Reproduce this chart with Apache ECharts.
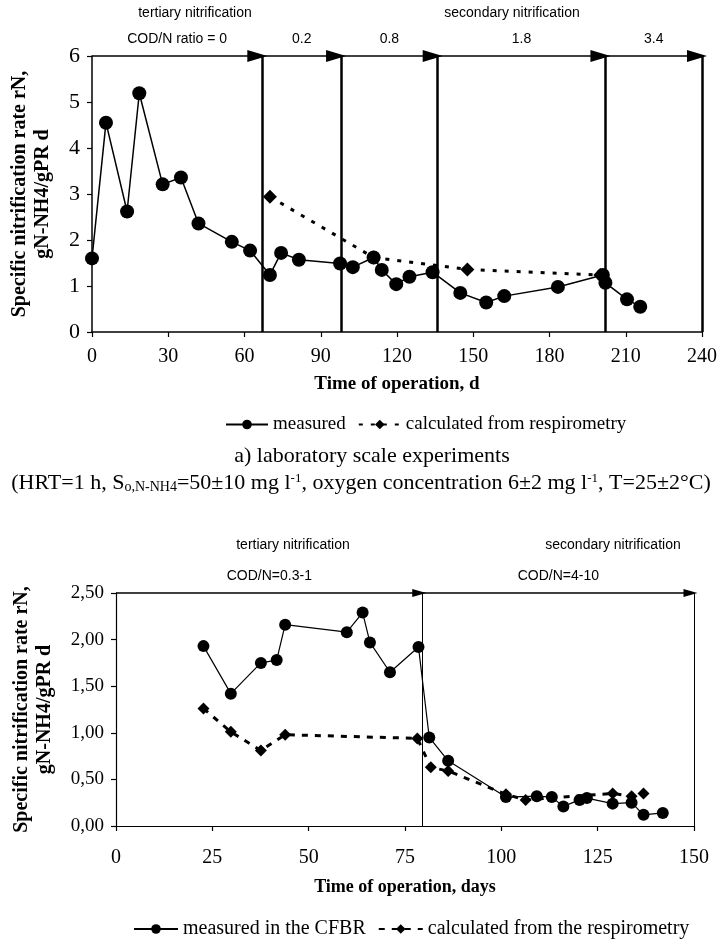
<!DOCTYPE html>
<html>
<head>
<meta charset="utf-8">
<script src="https://cdn.jsdelivr.net/npm/echarts@6.0.0/dist/echarts.min.js"></script>
<style>
  html, body { margin: 0; padding: 0; background: #fff; }
  #chart { width: 722px; height: 949px; }
</style>
</head>
<body>
<div id="chart"></div>
<script>
// a) laboratory scale
const labDays = [0, 5.5, 13.8, 18.6, 27.8, 35, 41.9, 55, 62.2, 70, 74.4, 81.4, 97.6, 102.6, 110.8, 114, 119.7, 124.9, 134, 144.9, 155.1, 162.2, 183.3, 201, 202, 210.5, 215.7]
const labMeasured = [1.60, 4.55, 2.62, 5.19, 3.21, 3.36, 2.36, 1.96, 1.77, 1.24, 1.72, 1.57, 1.49, 1.41, 1.62, 1.35, 1.04, 1.20, 1.30, 0.85, 0.64, 0.78, 0.98, 1.24, 1.07, 0.71, 0.55]
const labCalcDays = [70, 110.8, 147.7, 200]
const labCalc = [2.94, 1.62, 1.36, 1.24]
const labPhaseBounds = [0, 67, 98, 136, 202, 240]
const labPhaseLabels = ['COD/N ratio = 0', '0.2', '0.8', '1.8', '3.4']

// b) CFBR
const cfbrDays = [22.7, 29.8, 37.6, 41.7, 43.9, 59.9, 64, 65.9, 71.1, 78.5, 81.3, 86.2, 101.2, 109.2, 113.1, 116.1, 120.3, 122.2, 128.9, 133.8, 136.9, 141.9]
const cfbrMeasured = [1.93, 1.42, 1.75, 1.78, 2.16, 2.08, 2.29, 1.97, 1.65, 1.92, 0.95, 0.70, 0.31, 0.32, 0.31, 0.21, 0.28, 0.30, 0.24, 0.25, 0.12, 0.14]
const cfbrCalcDays = [22.7, 29.8, 37.6, 43.9, 78.2, 81.7, 86.2, 101.2, 106.3, 128.9, 133.8, 136.9]
const cfbrCalc = [1.26, 1.01, 0.81, 0.98, 0.94, 0.63, 0.59, 0.34, 0.28, 0.35, 0.32, 0.35]
const cfbrPhaseBounds = [0, 79.6, 150]
const cfbrPhaseLabels = ['COD/N=0.3-1', 'COD/N=4-10']

const SERIF = '"Liberation Serif", "DejaVu Serif", serif'
const SANS = '"Liberation Sans", Arial, sans-serif'

const zip = (xs, ys) => xs.map((x, i) => [x, ys[i]])

function phaseMarks (bounds, labels, yTop, lineWidth, arrowSize) {
  const data = []
  for (let i = 0; i < labels.length; i++) {
    data.push([
      {coord: [bounds[i], yTop], symbol: 'none'},
      {
        coord: [bounds[i + 1], yTop],
        symbol: 'triangle',
        symbolSize: arrowSize,
        symbolOffset: [0, arrowSize[1] / 4],
        label: {
          show: true,
          formatter: labels[i],
          position: 'insideMiddleTop',
          distance: 10,
          color: '#000',
          fontFamily: SANS,
          fontSize: 14,
        },
      },
    ])
  }
  for (let i = 1; i < bounds.length; i++) {
    data.push({xAxis: bounds[i], label: {show: false},
      lineStyle: {width: lineWidth, type: 'solid', color: '#000'}})
  }
  return {
    silent: true,
    animation: false,
    symbol: ['none', 'none'],
    lineStyle: {color: '#000', width: 1.5, type: 'solid'},
    label: {show: false},
    data: data,
  }
}

const axisCommon = {
  axisLine: {show: true, lineStyle: {color: '#000', width: 1.5}},
  axisTick: {show: true, inside: false, length: 5, lineStyle: {color: '#000', width: 1.2}},
  splitLine: {show: false},
}

const chart = echarts.init(document.getElementById('chart'), null, {renderer: 'canvas'})

chart.setOption({
  animation: false,
  backgroundColor: '#fff',
  grid: [
    {left: 92, top: 56, width: 610, height: 276, outerBoundsMode: 'none', containLabel: false},
    {left: 116, top: 593, width: 578, height: 233, outerBoundsMode: 'none', containLabel: false},
  ],
  xAxis: [
    Object.assign({}, axisCommon, {
      type: 'value', gridIndex: 0, min: 0, max: 240, interval: 30,
      axisLabel: {color: '#000', fontFamily: SERIF, fontSize: 20, margin: 15},
      name: 'Time of operation, d', nameLocation: 'middle', nameGap: 43,
      nameTextStyle: {color: '#000', fontFamily: SERIF, fontSize: 19, fontWeight: 'bold'},
    }),
    Object.assign({}, axisCommon, {
      type: 'value', gridIndex: 1, min: 0, max: 150, interval: 25,
      axisLine: {show: true, lineStyle: {color: '#000', width: 1.2}},
      axisLabel: {color: '#000', fontFamily: SERIF, fontSize: 20, margin: 22},
      name: 'Time of operation, days', nameLocation: 'middle', nameGap: 52,
      nameTextStyle: {color: '#000', fontFamily: SERIF, fontSize: 18, fontWeight: 'bold'},
    }),
  ],
  yAxis: [
    Object.assign({}, axisCommon, {
      type: 'value', gridIndex: 0, min: 0, max: 6, interval: 1,
      axisLabel: {color: '#000', fontFamily: SERIF, fontSize: 22, margin: 12},
      name: 'Specific nitrification rate rN,\ngN-NH4/gPR d', nameLocation: 'middle', nameRotate: 90, nameGap: 38,
      nameTextStyle: {color: '#000', fontFamily: SERIF, fontSize: 20, fontWeight: 'bold', lineHeight: 23},
    }),
    Object.assign({}, axisCommon, {
      type: 'value', gridIndex: 1, min: 0, max: 2.5, interval: 0.5,
      axisLine: {show: true, lineStyle: {color: '#000', width: 1.2}},
      axisLabel: {color: '#000', fontFamily: SERIF, fontSize: 19, margin: 12,
        formatter: v => v.toFixed(2).replace('.', ',')},
      name: 'Specific nitrification rate rN,\ngN-NH4/gPR d', nameLocation: 'middle', nameRotate: 90, nameGap: 60,
      nameTextStyle: {color: '#000', fontFamily: SERIF, fontSize: 20, fontWeight: 'bold', lineHeight: 23},
    }),
  ],
  legend: [
    {
      left: 220, top: 410, itemWidth: 42, itemHeight: 12, itemGap: 12,
      data: ['measured', 'calculated from respirometry'],
      textStyle: {color: '#000', fontFamily: SERIF, fontSize: 19},
    },
    {
      left: 128, top: 914, itemWidth: 44, itemHeight: 12, itemGap: 12,
      data: ['measured in the CFBR', 'calculated from the respirometry'],
      textStyle: {color: '#000', fontFamily: SERIF, fontSize: 20},
    },
  ],
  graphic: [
    {type: 'text', x: 372, y: 445,
      style: {text: 'a) laboratory scale experiments', fill: '#000', font: '22px ' + SERIF, textAlign: 'center'}},
    {type: 'text', left: 'center', top: 472,
      style: {
        text: '(HRT=1 h, S{sub|o,N-NH4}=50±10 mg l{sup|-1}, oxygen concentration 6±2 mg l{sup|-1}, T=25±2°C)',
        fill: '#000', font: '22px ' + SERIF,
        rich: {
          sub: {fontSize: 14, fontFamily: SERIF, verticalAlign: 'bottom', padding: [7, 0, 0, 0]},
          sup: {fontSize: 13, fontFamily: SERIF, verticalAlign: 'top', padding: [0, 0, 9, 0]},
        },
      }},
    {type: 'text', x: 195, y: 6, style: {text: 'tertiary nitrification', fill: '#000', font: '14px ' + SANS, textAlign: 'center'}},
    {type: 'text', x: 512, y: 6, style: {text: 'secondary nitrification', fill: '#000', font: '14px ' + SANS, textAlign: 'center'}},
    {type: 'text', x: 293, y: 538, style: {text: 'tertiary nitrification', fill: '#000', font: '14px ' + SANS, textAlign: 'center'}},
    {type: 'text', x: 613, y: 538, style: {text: 'secondary nitrification', fill: '#000', font: '14px ' + SANS, textAlign: 'center'}},
  ],
  series: [
    {
      name: 'measured', type: 'line', xAxisIndex: 0, yAxisIndex: 0,
      data: zip(labDays, labMeasured),
      symbol: 'circle', symbolSize: 14,
      itemStyle: {color: '#000'},
      lineStyle: {color: '#000', width: 1.5},
      markLine: phaseMarks(labPhaseBounds, labPhaseLabels, 6, 2.5, [12, 20]),
      z: 3,
    },
    {
      name: 'calculated from respirometry', type: 'line', xAxisIndex: 0, yAxisIndex: 0,
      data: zip(labCalcDays, labCalc),
      symbol: 'diamond', symbolSize: 14,
      itemStyle: {color: '#000'},
      lineStyle: {color: '#000', width: 3, type: [4, 8]},
      z: 2,
    },
    {
      name: 'measured in the CFBR', type: 'line', xAxisIndex: 1, yAxisIndex: 1,
      data: zip(cfbrDays, cfbrMeasured),
      symbol: 'circle', symbolSize: 12,
      itemStyle: {color: '#000'},
      lineStyle: {color: '#000', width: 1.2},
      markLine: phaseMarks(cfbrPhaseBounds, cfbrPhaseLabels, 2.5, 1, [8, 14]),
      z: 3,
    },
    {
      name: 'calculated from the respirometry', type: 'line', xAxisIndex: 1, yAxisIndex: 1,
      data: zip(cfbrCalcDays, cfbrCalc),
      symbol: 'diamond', symbolSize: 12,
      itemStyle: {color: '#000'},
      lineStyle: {color: '#000', width: 3, type: [6, 7]},
      z: 2,
    },
  ],
})
</script>
</body>
</html>
